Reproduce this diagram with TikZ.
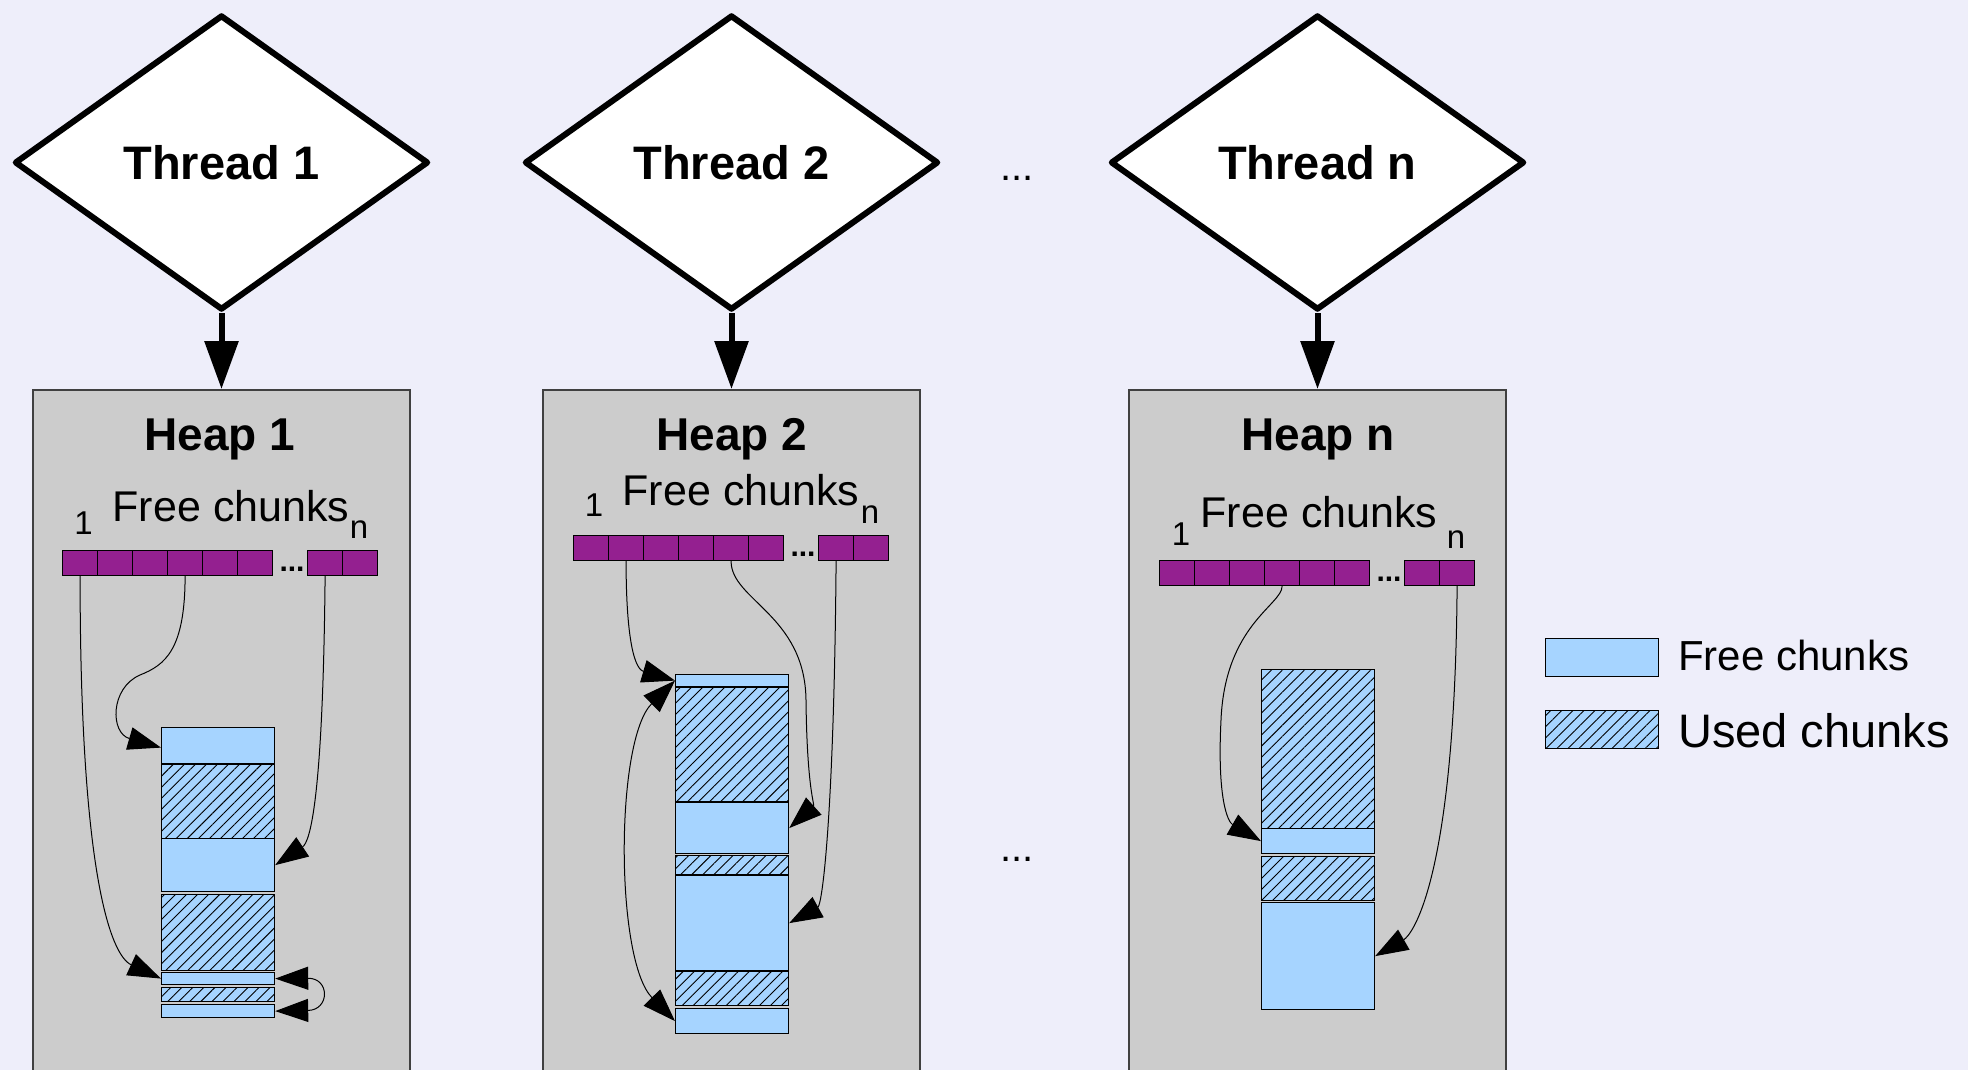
\documentclass[tikz,border=0pt]{standalone}
\usepackage{fontspec}
\setmainfont{Liberation Sans}
\usetikzlibrary{shapes.geometric,arrows.meta,patterns.meta}
\definecolor{bg}{RGB}{238,238,250}
\definecolor{heapgray}{RGB}{204,204,204}
\definecolor{chunkblue}{RGB}{166,212,255}
\definecolor{listpurple}{RGB}{148,32,144}
\newcommand{\fsz}[1]{\fontsize{#1}{#1}\selectfont}
% one free list: six cells, an ellipsis, then the last two cells
\newcommand{\freelist}[3]{%
  \foreach \i in {1,...,6} \node[cell] (#1c\i) at ({#2+35*(\i-1)},#3) {};
  \node[cell] (#1c7) at ({#2+245},#3) {};
  \node[cell] (#1c8) at ({#2+280},#3) {};
  \node[bardots] (#1dots) at ({#2+230},{#3+21}) {...};
}
\begin{document}
\begin{tikzpicture}[x=1pt,y=-1pt,
  thread/.style={shape=diamond, draw=black, fill=white, line width=6pt,
    line join=round, minimum width=414pt, minimum height=295pt,
    inner sep=0pt, font=\fsz{47}\bfseries},
  heap/.style={draw=black!75, fill=heapgray, line width=1.5pt,
    anchor=north, minimum width=377pt, minimum height=720pt, inner sep=0pt},
  spawn/.style={line width=6pt, -{Triangle[length=48pt,width=33pt]}},
  cell/.style={draw=black, fill=listpurple, line width=1.2pt,
    minimum width=35pt, minimum height=25pt, inner sep=0pt, anchor=north west},
  bardots/.style={font=\fsz{30}\bfseries, inner sep=0pt, anchor=base},
  freek/.style={draw=black, fill=chunkblue, line width=1.2pt,
    minimum width=113pt, inner sep=0pt, anchor=north west},
  usedk/.style={freek, postaction={pattern={Lines[angle=45,distance=7.8pt,line width=0.9pt]}, pattern color=black}},
  htitle/.style={font=\fsz{46}\bfseries, inner sep=0pt, anchor=base},
  lbl/.style={font=\fsz{43}, inner sep=0pt, anchor=base},
  idx/.style={font=\fsz{33}, inner sep=0pt, anchor=base},
  ptr/.style={line width=1pt, -{Triangle[length=33pt,width=23pt]}},
  ptrs/.style={line width=1pt, {Triangle[length=33pt,width=23pt]}-{Triangle[length=33pt,width=23pt]}},
  legend/.style={inner sep=0pt, anchor=base west},
  ell/.style={font=\fsz{40}, inner sep=0pt, anchor=base}
]
\clip (0,0) rectangle (1968,1070);
\fill[bg] (0,0) rectangle (1968,1070);

% threads
\node[thread] (t1) at (221.5,162.5) {Thread 1};
\node[thread] (t2) at (731.5,162.5) {Thread 2};
\node[thread] (tn) at (1317.5,162.5) {Thread n};
\node[ell] (tdots) at (1017,181) {...};

% heaps
\node[heap] (h1) at (221.5,389) {};
\node[heap] (h2) at (731.5,389) {};
\node[heap] (hn) at (1317.5,389) {};
\node[ell] (hdots) at (1017,861) {...};

\draw[spawn] (t1.south) -- (h1.north);
\draw[spawn] (t2.south) -- (h2.north);
\draw[spawn] (tn.south) -- (hn.north);

% heap 1
\node[htitle] (h1t) at (220,450) {Heap 1};
\node[lbl] (h1l) at (231,521) {Free chunks};
\node[idx] (h1one) at (83.5,534) {1};
\node[idx] (h1n) at (359,538) {n};
\freelist{h1}{62}{550}
\node[freek, minimum height=36pt] (h1k1) at (161,727) {};
\node[usedk, minimum height=74pt] (h1k2) at (161,764) {};
\node[freek, minimum height=53pt] (h1k3) at (161,838) {};
\node[usedk, minimum height=76pt] (h1k4) at (161,894) {};
\node[freek, minimum height=12pt] (h1k5) at (161,972) {};
\node[usedk, minimum height=14pt] (h1k6) at (161,987) {};
\node[freek, minimum height=13pt] (h1k7) at (161,1004) {};
\draw[ptr] (h1c4.south) .. controls (185,650) and (165,665) .. (140,675)
  .. controls (110,688) and (110,733) .. ([yshift=-2pt]h1k1.west);
\draw[ptr] (h1c1.south) .. controls (80,870) and (110,955) .. (h1k5.west);
\draw[ptr] (h1c7.south) .. controls (323,800) and (310,842) .. (h1k3.east);
\draw[ptrs] (h1k5.east) .. controls (330,978) and (330,1010) .. (h1k7.east);

% heap 2
\node[htitle] (h2t) at (732,450) {Heap 2};
\node[lbl] (h2l) at (741,505) {Free chunks};
\node[idx] (h2one) at (594,516) {1};
\node[idx] (h2n) at (870,523) {n};
\freelist{h2}{573}{535}
\node[freek, minimum height=12pt] (h2k1) at (675,674) {};
\node[usedk, minimum height=114pt] (h2k2) at (675,687) {};
\node[freek, minimum height=51pt] (h2k3) at (675,802) {};
\node[usedk, minimum height=19pt] (h2k4) at (675,855) {};
\node[freek, minimum height=95pt] (h2k5) at (675,875) {};
\node[usedk, minimum height=34pt] (h2k6) at (675,971) {};
\node[freek, minimum height=25pt] (h2k7) at (675,1008) {};
\draw[ptr] (h2c2.south) .. controls (626,625) and (632,668) .. (h2k1.west);
\draw[ptrs] (h2k1.west) .. controls (615,740) and (615,960) .. (h2k7.west);
\draw[ptr] (h2c5.south) .. controls (731,600) and (805,615) .. (806,700)
  .. controls (807,790) and (815,805) .. (h2k3.east);
\draw[ptr] (h2c7.south) .. controls (834,820) and (822,905) .. (h2k5.east);

% heap n
\node[htitle] (hnt) at (1318,450) {Heap n};
\node[lbl] (hnl) at (1319,527) {Free chunks};
\node[idx] (hnone) at (1181,545) {1};
\node[idx] (hnn) at (1456,548) {n};
\freelist{hn}{1159}{560}
\node[usedk, minimum height=159pt] (hnk1) at (1261,669) {};
\node[freek, minimum height=25pt] (hnk2) at (1261,828) {};
\node[usedk, minimum height=44pt] (hnk3) at (1261,856) {};
\node[freek, minimum height=107pt] (hnk4) at (1261,902) {};
\draw[ptr] (hnc4.south) .. controls (1282,605) and (1225,625) .. (1221,720)
  .. controls (1217,800) and (1228,822) .. (hnk2.west);
\draw[ptr] (hnc8.south) .. controls (1455,880) and (1412,935) .. (hnk4.east);

% legend
\node[freek, minimum height=38pt] (lgf) at (1545,638) {};
\node[usedk, minimum height=38pt] (lgu) at (1545,710) {};
\node[legend, font=\fsz{42}] (lgft) at (1678,670) {Free chunks};
\node[legend, font=\fsz{47}] (lgut) at (1678,747) {Used chunks};
\end{tikzpicture}
\end{document}
